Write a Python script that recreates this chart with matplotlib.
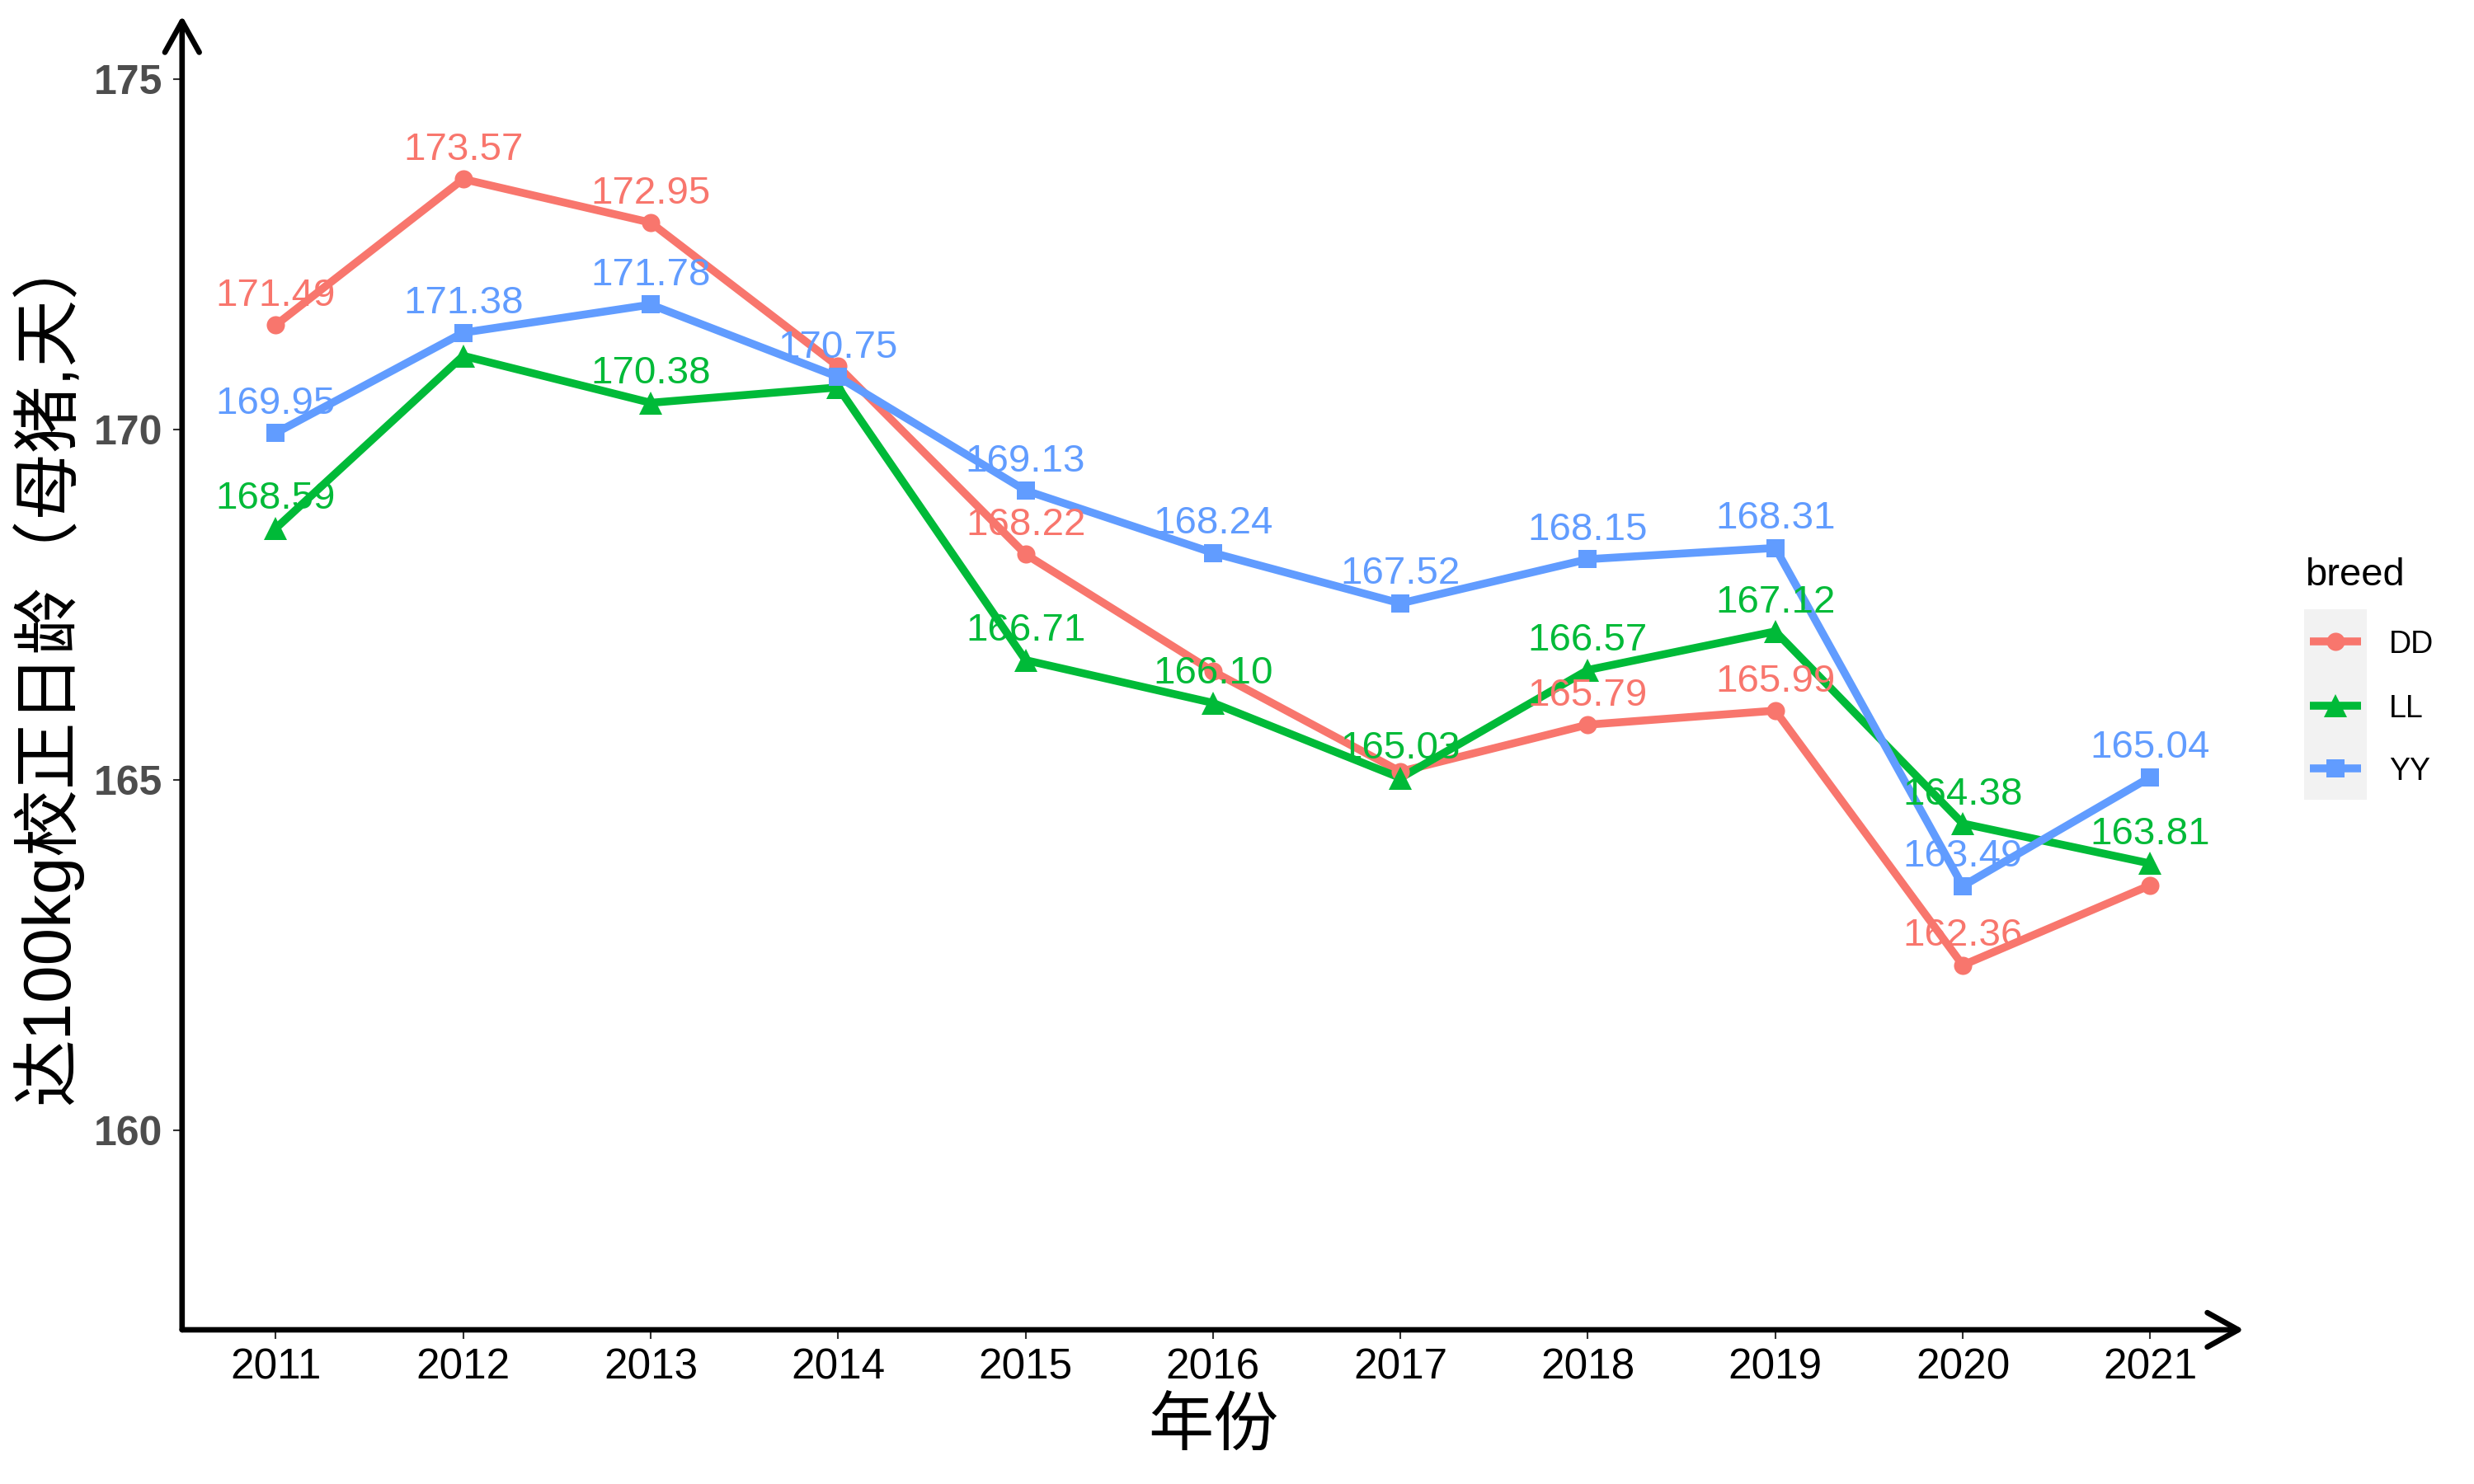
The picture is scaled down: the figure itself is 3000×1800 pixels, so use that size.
import matplotlib
matplotlib.use('Agg')
import matplotlib.pyplot as plt
from matplotlib.lines import Line2D
from matplotlib.patches import Rectangle

# ---------------- data ----------------
years = [2011, 2012, 2013, 2014, 2015, 2016, 2017, 2018, 2019, 2020, 2021]
breeds = ['DD', 'LL', 'YY']
dd_values = [171.49, 173.57, 172.95, 170.90, 168.22, 166.55, 165.12, 165.79, 165.99, 162.36, 163.50]
ll_values = [168.59, 171.05, 170.38, 170.60, 166.71, 166.10, 165.03, 166.57, 167.12, 164.38, 163.81]
yy_values = [169.95, 171.38, 171.78, 170.75, 169.13, 168.24, 167.52, 168.15, 168.31, 163.49, 165.04]
y_ticks = [160, 165, 170, 175]
x_label = '年份'
y_label = '达100kg校正日龄（母猪,天）'
legend_title = 'breed'

series = {'DD': dd_values, 'LL': ll_values, 'YY': yy_values}
colors = {'DD': '#F8766D', 'LL': '#00BA38', 'YY': '#619CFF'}
markers = {'DD': 'o', 'LL': '^', 'YY': 's'}
msizes = {'DD': 5.3, 'LL': 6.6, 'YY': 5.2}

plt.rcParams['font.family'] = ['Liberation Sans', 'Noto Sans CJK SC', 'DejaVu Sans']

fig = plt.figure(figsize=(10, 6), dpi=300)
ax_l, ax_b, ax_r, ax_t = 0.0736, 0.1039, 0.907, 0.9894
ax = fig.add_axes([ax_l, ax_b, ax_r - ax_l, ax_t - ax_b])

# lines first, then points (like separate layers)
for b in breeds:
    ax.plot(years, series[b], color=colors[b], lw=2.3, zorder=2,
            solid_joinstyle='round', solid_capstyle='butt')
for b in breeds:
    ax.plot(years, series[b], linestyle='none', marker=markers[b], ms=msizes[b],
            mfc=colors[b], mec=colors[b], mew=0, zorder=3)

ax.set_xlim(2010.5, 2021.5)
ax.set_ylim(157.16, 175.9)
ax.set_xticks(years)
ax.set_xticklabels([str(y) for y in years])
ax.set_yticks(y_ticks)
ax.set_yticklabels([str(v) for v in y_ticks])
for s in ax.spines.values():
    s.set_visible(False)
ax.tick_params(axis='both', direction='out', length=2.75, width=0.5, color='#333333')
ax.tick_params(axis='x', labelsize=12.3, labelcolor='black', pad=2.4)
ax.tick_params(axis='y', labelsize=12, labelcolor='#4D4D4D', pad=3.0)
for lbl in ax.get_yticklabels():
    lbl.set_fontweight('bold')

# axis lines with arrows
arrow_kw = dict(arrowstyle='->,head_length=0.9,head_width=0.5', lw=1.6, color='black',
                shrinkA=0, shrinkB=0, mutation_scale=10)
ax.annotate('', xy=(0, 1), xytext=(0, 0), xycoords='axes fraction',
            textcoords='axes fraction', arrowprops=arrow_kw, annotation_clip=False, zorder=6)
ax.annotate('', xy=(1, 0), xytext=(0, 0), xycoords='axes fraction',
            textcoords='axes fraction', arrowprops=arrow_kw, annotation_clip=False, zorder=6)

# axis titles
fig.text(0.4903, 0.0389, x_label, ha='center', va='center', fontsize=19,
         family=['Noto Sans CJK SC', 'DejaVu Sans'])
fig.text(0.019, 0.2555, y_label, ha='center', va='bottom', rotation=90, fontsize=19.6,
         family=['Liberation Sans', 'Noto Sans CJK SC', 'DejaVu Sans'])

# value labels with overlap check (drawn in order YY, LL, DD)
fig.canvas.draw()
renderer = fig.canvas.get_renderer()
kept = []
for b in ['YY', 'LL', 'DD']:
    for x, v in zip(years, series[b]):
        t = ax.annotate(f'{v:.2f}', xy=(x, v), xytext=(0, 5.6), textcoords='offset points',
                        ha='center', va='baseline', fontsize=11.4, color=colors[b], zorder=5)
        bb = t.get_window_extent(renderer)
        if any(bb.overlaps(k) for k in kept):
            t.remove()
        else:
            kept.append(bb)

# legend (manual, ggplot style)
fig.patches.append(Rectangle((0.9313, 0.4611), 0.9567 - 0.9313, 0.5894 - 0.4611,
                             transform=fig.transFigure, facecolor='#F2F2F2',
                             edgecolor='none', zorder=1))
fig.text(0.9317, 0.6056, legend_title, ha='left', va='baseline', fontsize=11.3)
row_y = {'DD': 0.5678, 'LL': 0.5244, 'YY': 0.4822}
for b in breeds:
    yk = row_y[b]
    fig.add_artist(Line2D([0.9337, 0.9543], [yk, yk], transform=fig.transFigure,
                          color=colors[b], lw=2.3, solid_capstyle='butt', zorder=2))
    fig.add_artist(Line2D([0.944], [yk], transform=fig.transFigure, linestyle='none',
                          marker=markers[b], ms=msizes[b], mfc=colors[b], mec=colors[b],
                          mew=0, zorder=3))
    fig.text(0.9657, yk, b, ha='left', va='center_baseline', fontsize=9)

fig.savefig('out.png', dpi=300)
